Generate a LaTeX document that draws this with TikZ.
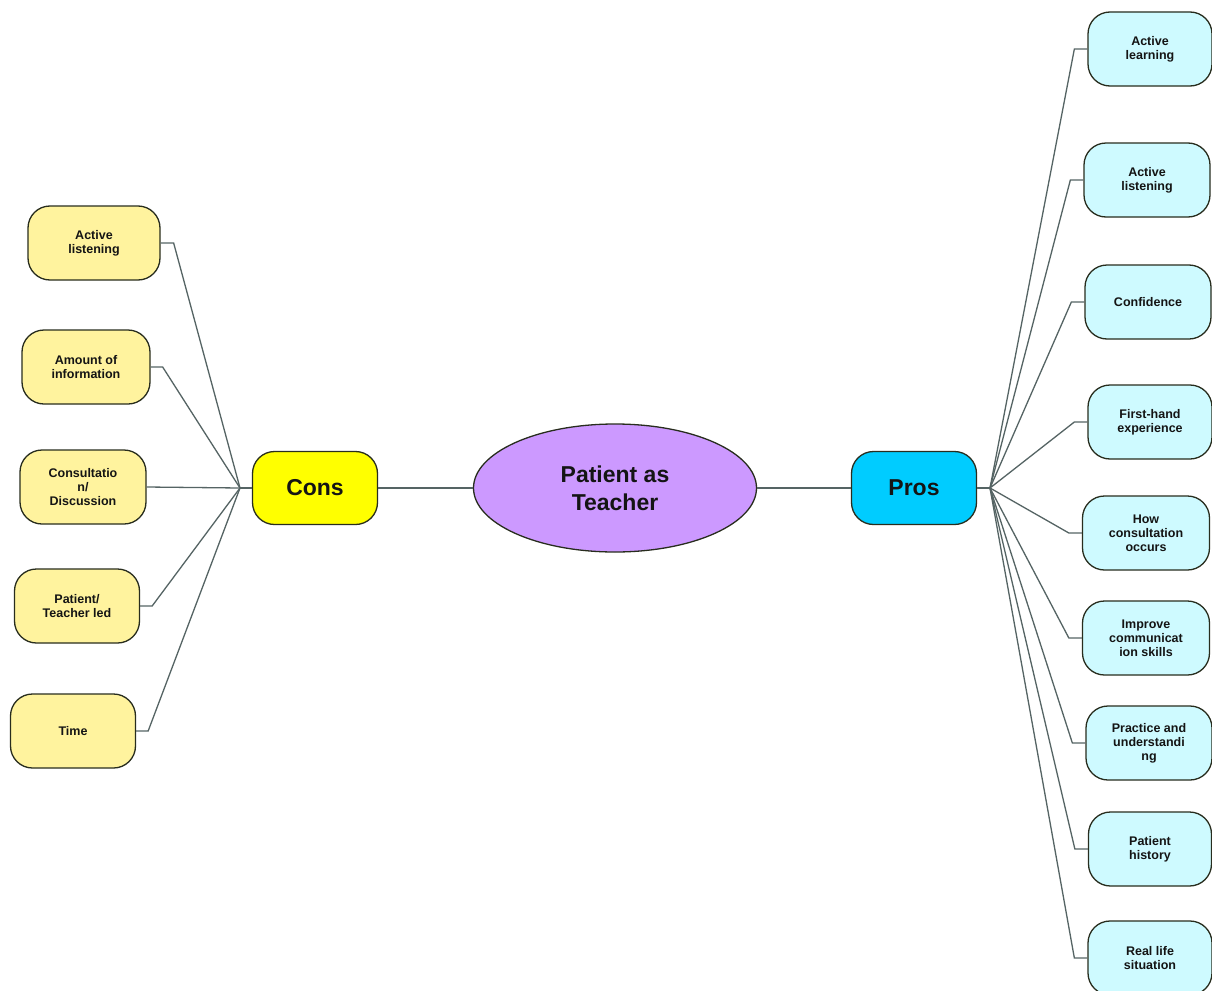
\documentclass[tikz,border=0pt]{standalone}
\usepackage{fontspec}
\setmainfont{Liberation Sans}
\usetikzlibrary{shapes.geometric}
\definecolor{leafY}{RGB}{255,243,158}
\definecolor{consY}{RGB}{255,255,0}
\definecolor{leafC}{RGB}{206,250,255}
\definecolor{prosC}{RGB}{0,204,255}
\definecolor{lav}{RGB}{204,153,255}
\definecolor{edgec}{RGB}{40,45,30}
\definecolor{linec}{RGB}{85,100,100}
\definecolor{txt}{RGB}{20,20,20}
\begin{document}
\begin{tikzpicture}[x=1pt,y=-1pt,
  leaf/.style={draw=edgec, line width=1.3pt, rounded corners=22pt, minimum width=126pt, minimum height=74pt, align=center, inner sep=2pt, text=txt, font=\fontsize{12.5}{14}\selectfont\bfseries},
  yleaf/.style={leaf, fill=leafY},
  cleaf/.style={leaf, fill=leafC},
  mid/.style={draw=edgec, line width=1.3pt, rounded corners=22pt, minimum width=125pt, minimum height=73pt, align=center, text=txt, font=\fontsize{23}{28}\selectfont\bfseries},
  conn/.style={draw=linec, line width=1.3pt}]
\useasboundingbox (0,0) rectangle (1212,990);
\fill[white] (0,0) rectangle (1212,990);

% centre
\node[ellipse, draw=edgec, line width=1.3pt, fill=lav, minimum width=283pt, minimum height=128pt, align=center, text=txt, font=\fontsize{23}{28}\selectfont\bfseries] (c) at (615,488) {Patient as\\Teacher};
\node[mid, fill=consY] (cons) at (315,488) {Cons};
\node[mid, fill=prosC] (pros) at (914,488) {Pros};
\coordinate (hubL) at (240,488);
\coordinate (hubR) at (990,488);

% left leaves
\node[yleaf, minimum width=132pt] (l1) at (94,243) {Active\\listening};
\node[yleaf, minimum width=128pt] (l2) at (86,367) {Amount of\\information};
\node[yleaf] (l3) at (83,487) {Consultatio\\n/\\Discussion};
\node[yleaf, minimum width=125pt] (l4) at (77,606) {Patient/\\Teacher led};
\node[yleaf, minimum width=125pt] (l5) at (73,731) {Time};

% right leaves
\node[cleaf, minimum width=124pt] (r1) at (1150,49) {Active\\learning};
\node[cleaf] (r2) at (1147,180) {Active\\listening};
\node[cleaf] (r3) at (1148,302) {Confidence};
\node[cleaf, minimum width=124pt] (r4) at (1150,422) {First-hand\\experience};
\node[cleaf, minimum width=127pt] (r5) at (1146,533) {How\\consultation\\occurs};
\node[cleaf, minimum width=127pt] (r6) at (1146,638) {Improve\\communicat\\ion skills};
\node[cleaf] (r7) at (1149,743) {Practice and\\understandi\\ng};
\node[cleaf, minimum width=123pt] (r8) at (1150,849) {Patient\\history};
\node[cleaf, minimum width=124pt] (r9) at (1150,958) {Real life\\situation};

% spine
\draw[conn] (hubL) -- (cons.west);
\draw[conn] (cons.east) -- (c.west);
\draw[conn] (c.east) -- (pros.west);
\draw[conn] (pros.east) -- (hubR);

% left connectors
\draw[conn] (l1.east) -- ++(13,0) -- (hubL);
\draw[conn] (l2.east) -- ++(12,0) -- (hubL);
\draw[conn] (l3.east) -- (hubL);
\draw[conn] (l4.east) -- ++(12,0) -- (hubL);
\draw[conn] (l5.east) -- ++(12,0) -- (hubL);

% right connectors
\foreach \n in {r1,r2,r3,r4,r5,r6,r7,r8,r9}
  \draw[conn] (\n.west) -- ++(-13,0) -- (hubR);
\end{tikzpicture}
\end{document}
